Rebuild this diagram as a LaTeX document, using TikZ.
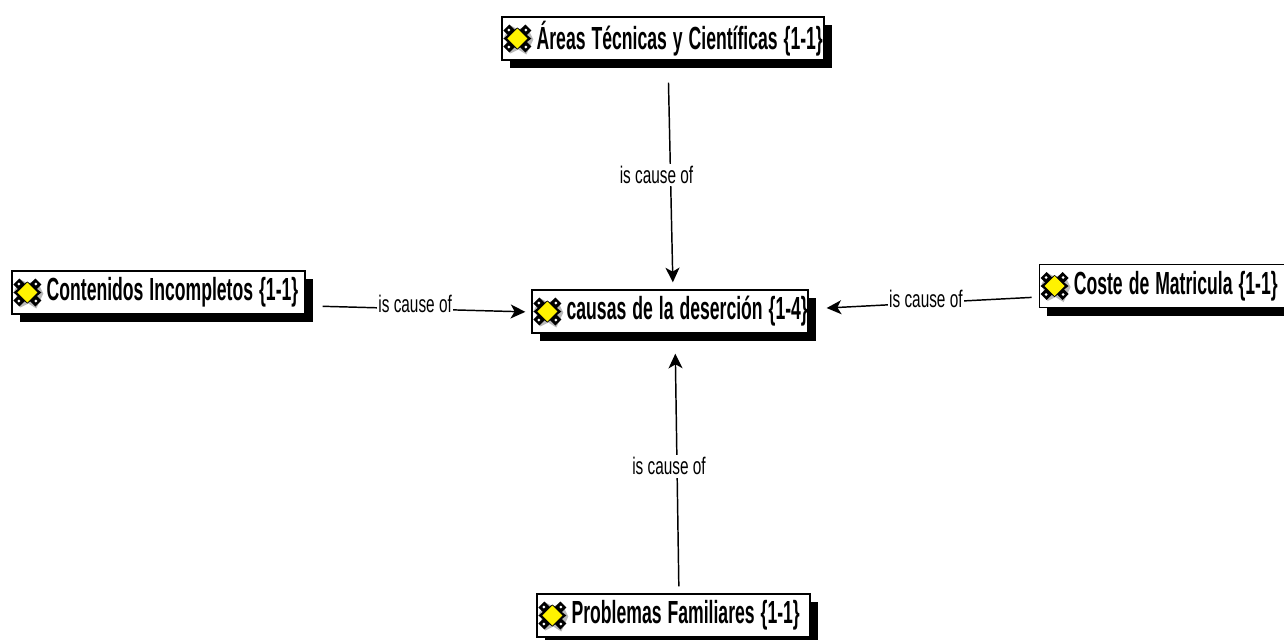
\documentclass[tikz,border=0pt]{standalone}
\usepackage{fontspec}
\usepackage{tikz}
\usetikzlibrary{arrows.meta,shadows}
\newfontfamily\conceptfont[FakeStretch=0.55]{Liberation Sans Bold}
\newfontfamily\linkfont[FakeStretch=0.64]{Liberation Sans}

\begin{document}
\begin{tikzpicture}[x=.75pt,y=-.75pt]
	\tikzstyle{concept}=[rectangle,draw=black,line width=1pt,fill=white,inner xsep=0pt,inner ysep=0pt,minimum height=32.25pt,align=left,font=\conceptfont\fontsize{24}{26}\selectfont,execute at begin node={\spaceskip=4.5pt\hspace*{26pt}},drop shadow={shadow xshift=6pt,shadow yshift=-6pt,opacity=1,fill=black}]
	\tikzstyle{link}=[draw=black,line width=1.1pt,-{Stealth[length=11pt,width=10.5pt,inset=3pt]}]
	\tikzstyle{linklabel}=[fill=white,inner xsep=1pt,inner ysep=2pt,font=\linkfont\fontsize{18}{20}\selectfont]
	\tikzset{conceptIcon/.pic={
		\fill [gray!55] (-13,-2) -- (-7,-13) -- (1,-9) -- (9,-13) -- (16,1) -- (9,16) -- (1,11) -- (-7,15) -- cycle;
		\fill [black] (-14,0) -- (0,-11) -- (14,0) -- (0,11) -- cycle;
		\foreach \sx/\sy in {-1/-1,1/-1,1/1,-1/1} {
			\fill [black] (\sx*8,\sy*14) -- (\sx*14,\sy*8) -- (\sx*8,\sy*2) -- (\sx*2,\sy*8) -- cycle;
			\fill [white] (\sx*8.5,\sy*8.5) circle (1.5);
		}
		\fill [yellow] (-10,0) -- (0,-10) -- (10,0) -- (0,10) -- cycle;
	}}

	\useasboundingbox (0,0) rectangle (1284,639);

	\node [concept,text width=207pt] (causas) at (670,311.5)											{causas de la deserción \{1-4\}};
	\node [concept,text width=241.5pt] (areas) [above of=causas,node distance=204.75pt,xshift=-5.25pt]	{Áreas Técnicas y Científicas \{1-1\}};
	\node [concept,text width=219.75pt] (contenidos) [left of=causas,node distance=383.6pt,yshift=14.25pt]	{Contenidos Incompletos \{1-1\}};
	\node [concept,text width=188pt] (coste) [right of=causas,node distance=370.9pt,yshift=19.1pt]		{Coste de Matricula \{1-1\}};
	\node [concept,text width=204.75pt] (problemas) [below of=causas,node distance=228pt,xshift=2.6pt]	{Problemas Familiares \{1-1\}};

	\pic at ([xshift=12pt]causas.west) {conceptIcon};
	\pic at ([xshift=12pt]areas.west) {conceptIcon};
	\pic at ([xshift=12pt]contenidos.west) {conceptIcon};
	\pic at ([xshift=12pt]coste.west) {conceptIcon};
	\pic at ([xshift=12pt]problemas.west) {conceptIcon};

	\draw [link,shorten <=16.5pt,shorten >=5.25pt] ([xshift=3.75pt]areas.south) -- node [linklabel,pos=.5,xshift=-10.5pt] (lblareas) {is cause of} ([xshift=2.25pt]causas.north);
	\draw [link,shorten <=12.75pt,shorten >=4.5pt] ([yshift=-10pt]contenidos.east) -- node [linklabel,pos=.485,yshift=4pt] (lblcontenidos) {is cause of} ([yshift=-.4pt]causas.west);
	\draw [link,shorten <=5.25pt,shorten >=13.5pt] ([yshift=-8.25pt]coste.west) -- node [linklabel,pos=.49,yshift=3pt] (lblcoste) {is cause of} ([yshift=1.9pt]causas.east);
	\draw [link,shorten <=5.25pt,shorten >=15pt] ([xshift=4.1pt]problemas.north) -- node [linklabel,pos=.49,xshift=-6pt] (lblproblemas) {is cause of} ([xshift=3.75pt]causas.south);
\end{tikzpicture}
\end{document}
